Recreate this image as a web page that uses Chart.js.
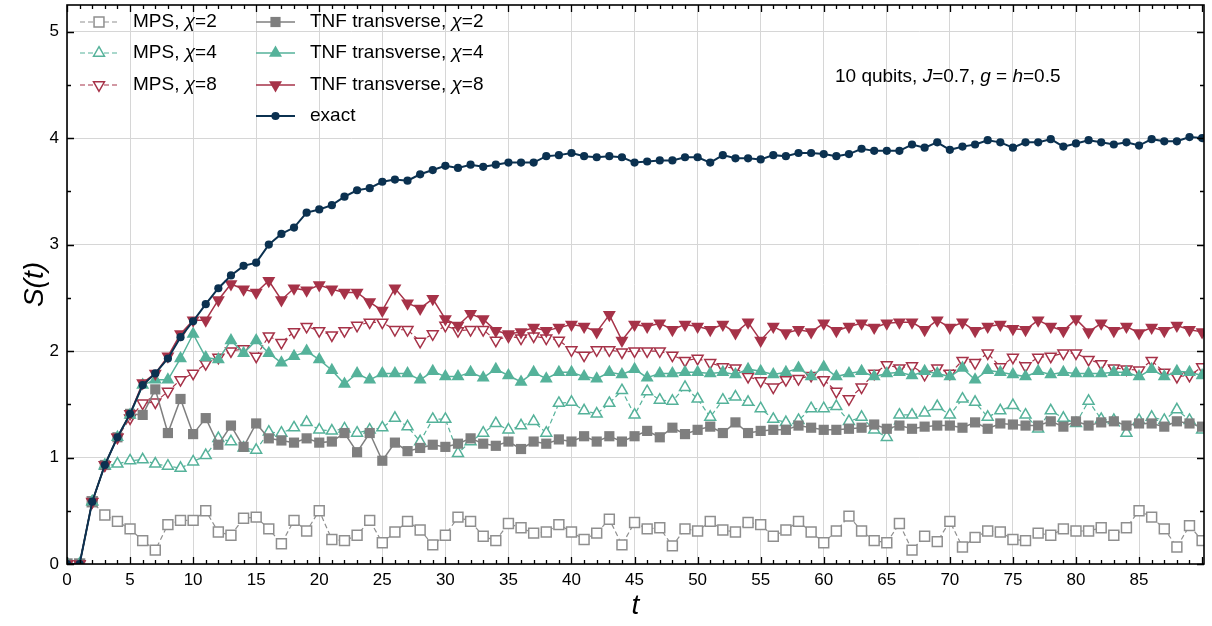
<!DOCTYPE html>
<html><head><meta charset="utf-8">
<script src="https://cdn.jsdelivr.net/npm/chart.js@4"></script>
<style>html,body{margin:0;padding:0;background:#fff}#wrap{width:1212px;height:626px}</style>
</head><body><div id="wrap"><canvas id="c" width="1212" height="626"></canvas></div>
<script>
const tVals = [0,1,2,3,4,5,6,7,8,9,10,11,12,13,14,15,16,17,18,19,20,21,22,23,24,25,26,27,28,29,30,
31,32,33,34,35,36,37,38,39,40,41,42,43,44,45,46,47,48,49,50,51,52,53,54,55,56,57,58,59,60,
61,62,63,64,65,66,67,68,69,70,71,72,73,74,75,76,77,78,79,80,81,82,83,84,85,86,87,88,89,90];

const exact = [0,0,0.585,0.93,1.19,1.41,1.68,1.79,1.93,2.13,2.28,2.44,2.59,2.71,2.80,2.83,
3.00,3.10,3.16,3.30,3.33,3.37,3.45,3.51,3.53,3.59,3.61,3.60,3.66,3.70,3.74,
3.72,3.75,3.73,3.75,3.77,3.77,3.77,3.83,3.84,3.86,3.83,3.82,3.83,3.82,3.77,
3.78,3.79,3.79,3.82,3.82,3.77,3.84,3.81,3.81,3.80,3.84,3.83,3.86,3.86,3.85,
3.83,3.85,3.90,3.88,3.88,3.88,3.94,3.91,3.96,3.89,3.92,3.94,3.98,3.96,3.91,
3.96,3.96,3.99,3.92,3.95,3.98,3.96,3.94,3.96,3.93,3.99,3.97,3.97,4.01,4.00];

const tnf8 = [0,0,0.585,0.93,1.19,1.41,1.70,1.79,1.95,2.16,2.29,2.29,2.48,2.63,2.58,2.55,
2.66,2.48,2.59,2.57,2.62,2.58,2.55,2.55,2.46,2.38,2.59,2.45,2.40,2.49,2.30,
2.24,2.35,2.30,2.19,2.16,2.18,2.22,2.19,2.22,2.25,2.23,2.18,2.34,2.10,2.25,
2.23,2.26,2.20,2.25,2.23,2.20,2.25,2.17,2.27,2.10,2.23,2.17,2.20,2.18,2.26,
2.19,2.23,2.26,2.22,2.26,2.27,2.27,2.20,2.29,2.22,2.27,2.19,2.23,2.25,2.21,
2.20,2.29,2.23,2.19,2.30,2.18,2.26,2.19,2.23,2.17,2.22,2.19,2.24,2.20,2.18];

const mps8 = [0,0,0.585,0.93,1.19,1.37,1.51,1.52,1.62,1.73,1.79,1.88,1.94,2.00,2.02,1.95,
2.14,2.08,2.18,2.23,2.19,2.15,2.19,2.24,2.27,2.27,2.20,2.20,2.09,2.16,2.24,
2.19,2.20,2.20,2.10,2.14,2.12,2.14,2.12,2.10,2.01,1.96,2.01,2.01,1.99,2.00,
2.00,2.00,1.96,1.91,1.93,1.89,1.85,1.84,1.76,1.72,1.66,1.73,1.74,1.77,1.73,
1.62,1.55,1.66,1.79,1.87,1.84,1.86,1.78,1.84,1.79,1.91,1.89,1.98,1.85,1.94,
1.86,1.94,1.95,1.98,1.98,1.92,1.88,1.84,1.83,1.82,1.91,1.80,1.76,1.77,1.85];

const tnf4 = [0,0,0.585,0.93,1.19,1.40,1.68,1.73,1.73,1.93,2.16,1.94,1.92,2.10,1.98,2.10,
1.98,1.89,1.95,2.00,1.92,1.82,1.69,1.79,1.73,1.79,1.79,1.79,1.73,1.81,1.76,
1.76,1.80,1.75,1.83,1.77,1.71,1.80,1.74,1.80,1.80,1.76,1.74,1.80,1.78,1.83,
1.75,1.79,1.79,1.80,1.80,1.79,1.80,1.78,1.83,1.81,1.78,1.80,1.84,1.76,1.85,
1.76,1.79,1.81,1.76,1.79,1.80,1.77,1.81,1.79,1.76,1.84,1.73,1.82,1.80,1.78,
1.76,1.81,1.78,1.80,1.79,1.79,1.79,1.80,1.80,1.76,1.83,1.76,1.81,1.80,1.77];

const mps4 = [0,0,0.585,0.92,0.94,0.97,0.98,0.94,0.92,0.90,0.96,1.02,1.18,1.15,1.09,1.07,
1.24,1.23,1.28,1.33,1.26,1.25,1.27,1.23,1.26,1.28,1.37,1.29,1.15,1.36,1.36,
1.04,1.15,1.23,1.32,1.26,1.30,1.34,1.23,1.51,1.52,1.44,1.41,1.51,1.63,1.40,
1.62,1.54,1.53,1.66,1.55,1.38,1.54,1.57,1.52,1.46,1.36,1.33,1.35,1.46,1.46,
1.48,1.34,1.38,1.26,1.19,1.40,1.40,1.42,1.48,1.40,1.55,1.52,1.38,1.44,1.49,
1.40,1.27,1.44,1.37,1.32,1.53,1.36,1.35,1.23,1.35,1.38,1.35,1.45,1.35,1.26];

const tnf2 = [0,0,0.585,0.93,1.19,1.41,1.40,1.64,1.23,1.55,1.22,1.37,1.12,1.30,1.10,1.32,
1.18,1.16,1.14,1.18,1.14,1.15,1.23,1.05,1.23,0.97,1.14,1.06,1.09,1.12,1.10,
1.13,1.18,1.13,1.11,1.15,1.08,1.15,1.13,1.17,1.15,1.20,1.15,1.20,1.15,1.20,
1.25,1.19,1.28,1.22,1.26,1.29,1.23,1.33,1.23,1.25,1.26,1.26,1.30,1.28,1.26,
1.26,1.27,1.28,1.31,1.27,1.30,1.27,1.29,1.30,1.30,1.28,1.33,1.27,1.32,1.31,
1.30,1.30,1.34,1.29,1.34,1.30,1.33,1.34,1.30,1.32,1.32,1.29,1.34,1.32,1.29];

const mps2 = [0,0,0.585,0.46,0.40,0.33,0.22,0.13,0.37,0.41,0.41,0.50,0.30,0.27,0.43,0.44,
0.33,0.19,0.41,0.31,0.50,0.23,0.22,0.27,0.41,0.20,0.30,0.40,0.32,0.18,0.27,
0.44,0.40,0.26,0.22,0.38,0.34,0.29,0.30,0.37,0.30,0.23,0.29,0.42,0.18,0.39,
0.33,0.34,0.17,0.33,0.31,0.40,0.32,0.30,0.39,0.37,0.26,0.32,0.40,0.30,0.20,
0.31,0.45,0.31,0.22,0.20,0.38,0.13,0.26,0.21,0.40,0.16,0.25,0.31,0.30,0.23,
0.22,0.29,0.27,0.33,0.31,0.31,0.34,0.27,0.34,0.50,0.44,0.33,0.16,0.36,0.22];

const xTicks = [0,5,10,15,20,25,30,35,40,45,50,55,60,65,70,75,80,85];
const yTicks = [0,1,2,3,4,5];

const C_GRAY = '#7f7f7f', C_GRAY_L = '#8f8f8f', C_TEAL = '#55b29a', C_RED = '#a63248', C_NAVY = '#0b3150';
const FONT = "'Liberation Sans', Arial, sans-serif";

function pts(arr){ return tVals.map((x,i)=>({x:x, y:arr[i]})); }

const series = [
  {key:'exact', label:'exact', data:exact, color:C_NAVY, style:'circle', r:4.1, fill:true, dash:[], lw:2},
  {key:'tnf8', label:'TNF transverse, ', chi:'8', data:tnf8, color:C_RED, style:'triangle', rot:180, r:7.5, fill:true, dash:[], lw:1.5},
  {key:'tnf4', label:'TNF transverse, ', chi:'4', data:tnf4, color:C_TEAL, style:'triangle', rot:0, r:7.5, fill:true, dash:[], lw:1.5},
  {key:'tnf2', label:'TNF transverse, ', chi:'2', data:tnf2, color:C_GRAY, style:'rect', r:7.2, fill:true, dash:[], lw:1.5},
  {key:'mps8', label:'MPS, ', chi:'8', data:mps8, color:C_RED, style:'triangle', rot:180, r:6.3, fill:false, dash:[5,3], lw:1.2},
  {key:'mps4', label:'MPS, ', chi:'4', data:mps4, color:C_TEAL, style:'triangle', rot:0, r:6.3, fill:false, dash:[5,3], lw:1.2},
  {key:'mps2', label:'MPS, ', chi:'2', data:mps2, color:C_GRAY_L, style:'rect', r:7, fill:false, dash:[5,3], lw:1.2},
];

const datasets = series.map(s => ({
  label: s.label + (s.chi||''),
  data: pts(s.data),
  borderColor: s.color,
  backgroundColor: s.color,
  borderWidth: s.lw,
  borderDash: s.dash,
  pointStyle: s.style,
  pointRotation: s.rot || 0,
  pointRadius: s.r,
  pointBackgroundColor: s.fill ? s.color : '#ffffff',
  pointBorderColor: s.color,
  pointBorderWidth: s.fill ? 0 : 1.5,
  tension: 0,
  clip: 0,
}));

const decor = {
  id: 'decor',
  afterDraw(chart){
    const ctx = chart.ctx, a = chart.chartArea;
    const xs = chart.scales.x, ys = chart.scales.y;
    ctx.save();
    ctx.strokeStyle = '#000'; ctx.lineWidth = 1.3;
    ctx.beginPath();
    for (let v = 0; v <= 90; v++) {
      const px = Math.round(xs.getPixelForValue(v)) + 0.5;
      const L = (v % 5 === 0) ? 7 : 4;
      ctx.moveTo(px, a.bottom); ctx.lineTo(px, a.bottom - L);
      ctx.moveTo(px, a.top); ctx.lineTo(px, a.top + L);
    }
    for (let k = 0; k <= 10; k++) {
      const v = k * 0.5;
      const py = Math.round(ys.getPixelForValue(v)) + 0.5;
      const L = (k % 2 === 0) ? 7 : 4;
      ctx.moveTo(a.left, py); ctx.lineTo(a.left + L, py);
      ctx.moveTo(a.right, py); ctx.lineTo(a.right - L, py);
    }
    ctx.stroke();
    ctx.lineWidth = 1.6;
    ctx.strokeRect(a.left, a.top, a.right - a.left, a.bottom - a.top);

    ctx.fillStyle = '#000';
    ctx.font = "italic 28px " + FONT;
    ctx.textAlign = 'center'; ctx.textBaseline = 'middle';
    ctx.fillText('t', (a.left + a.right) / 2, 606);
    ctx.save();
    ctx.translate(35, (a.top + a.bottom) / 2);
    ctx.rotate(-Math.PI / 2);
    ctx.fillText('S(t)', 0, 0);
    ctx.restore();

    function mixed(parts, x, y, size){
      ctx.textAlign = 'left'; ctx.textBaseline = 'middle';
      let cx = x;
      for (const [txt, it] of parts) {
        ctx.font = (it ? 'italic ' : '') + size + 'px ' + FONT;
        ctx.fillText(txt, cx, y);
        cx += ctx.measureText(txt).width;
      }
    }

    const byKey = {}; series.forEach(s => byKey[s.key] = s);
    const col1 = ['mps2','mps4','mps8'], col2 = ['tnf2','tnf4','tnf8','exact'];
    const rows = [22, 53, 85, 116];
    function entry(s, x1, x2, xt, y){
      ctx.save();
      ctx.strokeStyle = s.color; ctx.lineWidth = s.lw; ctx.setLineDash(s.dash);
      ctx.beginPath(); ctx.moveTo(x1, y); ctx.lineTo(x2, y); ctx.stroke();
      ctx.setLineDash([]);
      ctx.fillStyle = s.fill ? s.color : '#fff';
      ctx.strokeStyle = s.color; ctx.lineWidth = s.fill ? 0 : 1.5;
      Chart.helpers.drawPoint(ctx, {pointStyle: s.style, radius: s.r, rotation: s.rot || 0, borderWidth: s.fill ? 0 : 1.5}, (x1 + x2) / 2, y);
      ctx.restore();
      ctx.fillStyle = '#000';
      const parts = [[s.label, false]];
      if (s.chi) { parts.push(['χ', true]); parts.push(['=' + s.chi, false]); }
      mixed(parts, xt, y, 19);
    }
    col1.forEach((k, i) => entry(byKey[k], 80, 118, 133, rows[i]));
    col2.forEach((k, i) => entry(byKey[k], 256, 295, 310, rows[i]));

    ctx.fillStyle = '#000';
    mixed([['10 qubits, ', false], ['J', true], ['=0.7, ', false], ['g', true], [' = ', false], ['h', true], ['=0.5', false]], 835, 77, 19);
    ctx.restore();
  }
};

function zeroPad(s){ s.paddingTop = 0; s.paddingBottom = 0; s.paddingLeft = 0; s.paddingRight = 0; }

new Chart(document.getElementById('c'), {
  type: 'line',
  data: { datasets },
  options: {
    responsive: false,
    animation: false,
    devicePixelRatio: 1,
    layout: { autoPadding: false, padding: { top: 5, right: 8, left: 0, bottom: 0 } },
    plugins: { legend: { display: false }, tooltip: { enabled: false } },
    scales: {
      x: {
        type: 'linear', min: 0, max: 90.15,
        afterBuildTicks: s => { s.ticks = xTicks.map(v => ({value: v})); },
        afterFit: s => { s.height = 62; zeroPad(s); },
        grid: { color: '#d6d6d6', lineWidth: 1, drawTicks: false },
        border: { display: false },
        ticks: { font: { family: FONT, size: 17 }, color: '#000', padding: 6, maxRotation: 0, autoSkip: false }
      },
      y: {
        type: 'linear', min: 0, max: 5.25,
        afterBuildTicks: s => { s.ticks = yTicks.map(v => ({value: v})); },
        afterFit: s => { s.width = 67; zeroPad(s); },
        grid: { color: '#d6d6d6', lineWidth: 1, drawTicks: false },
        border: { display: false },
        ticks: { font: { family: FONT, size: 17 }, color: '#000', padding: 8 }
      }
    }
  },
  plugins: [decor]
});
</script></body></html>
